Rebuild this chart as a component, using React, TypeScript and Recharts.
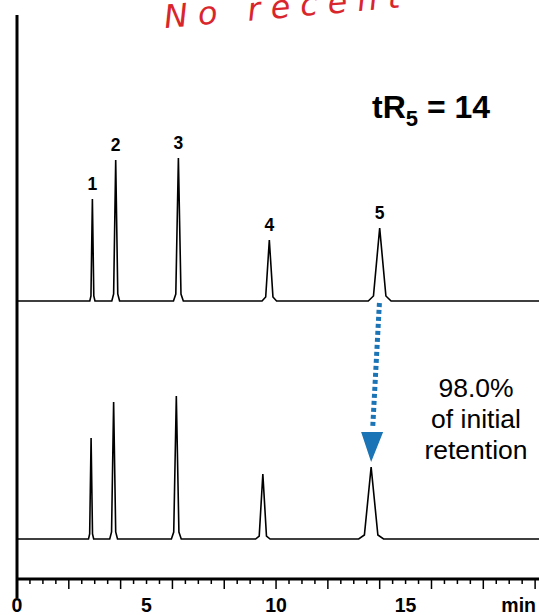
import { LineChart, Line, XAxis, YAxis, ReferenceLine, ReferenceDot } from 'recharts'

// Chromatogram before / after (time in min, detector signal in arbitrary units)
// Traces are stacked: the upper trace rides on an offset baseline.
const topTrace: [number, number][] = [
  [0, 278],
  [2.81, 278], [2.855, 283], [2.91, 380], [2.965, 283], [3.01, 278],
  [3.66, 278], [3.73, 285], [3.81, 419], [3.89, 285], [3.96, 278],
  [6.04, 278], [6.13, 285], [6.23, 421], [6.33, 285], [6.42, 278],
  [9.46, 278], [9.6, 282], [9.74, 339], [9.88, 282], [10.02, 278],
  [13.56, 278], [13.76, 283], [14.0, 351], [14.24, 283], [14.44, 278],
  [20.15, 278],
]

const bottomTrace: [number, number][] = [
  [0, 40],
  [2.76, 40], [2.805, 45], [2.86, 141], [2.915, 45], [2.96, 40],
  [3.58, 40], [3.65, 47], [3.73, 177], [3.81, 47], [3.88, 40],
  [5.96, 40], [6.05, 47], [6.15, 183], [6.25, 47], [6.34, 40],
  [9.21, 40], [9.35, 43], [9.49, 105], [9.63, 43], [9.77, 40],
  [13.19, 40], [13.41, 44], [13.67, 112], [13.93, 44], [14.15, 40],
  [20.15, 40],
]

// peak numbering on the upper trace
const peakNames = ['1', '2', '3', '4', '5']
const peakTimes = [2.91, 3.81, 6.23, 9.74, 14.0]
const peakApex = [380, 419, 421, 339, 351]

// shift of peak 5: initial -> after
const shiftFrom = { t: 13.99, v: 276 }
const shiftTo = { t: 13.67, v: 117 }

// x axis: small ticks every 0.5 min, long ones every 2 min, numbers every 5
const axisTicks = [
  0, 0.5, 1, 1.5, 2, 2.5, 3, 3.5, 4, 4.5, 5, 5.5, 6, 6.5, 7, 7.5, 8, 8.5, 9, 9.5,
  10, 10.5, 11, 11.5, 12, 12.5, 13, 13.5, 14, 14.5, 15, 15.5, 16, 16.5, 17, 17.5,
  18, 18.5, 19, 19.5, 20,
]
const majorTicks = [0, 2, 4, 6, 8, 10, 12, 14, 16, 18, 20]
const labelTicks = [0, 5, 10, 15]

const FONT = '"Liberation Sans", Arial, Helvetica, sans-serif'
const BLUE = '#1b74b5'

const toPoints = (pairs: [number, number][]) => pairs.map(([t, v]) => ({ t, v }))

const AxisTick = ({ x, y, payload }: any) => {
  const v = payload.value
  const len = majorTicks.includes(v) ? 10 : 5
  return (
    <g>
      <line x1={x} x2={x} y1={y} y2={y + len} stroke="#000" strokeWidth={1.5} />
      {labelTicks.includes(v) && (
        <text x={x} y={y + 33} textAnchor="middle" fontFamily={FONT} fontWeight="bold" fontSize={19.5} fill="#000">
          {v}
        </text>
      )}
    </g>
  )
}

const ArrowHead = ({ cx, cy }: any) => (
  <polygon points={`${cx},${cy} ${cx - 10},${cy - 30} ${cx + 12},${cy - 30}`} fill={BLUE} />
)

export default function App() {
  return (
    <div style={{ position: 'absolute', left: 0, top: 0, width: 539, height: 615, background: '#fff' }}>
      <LineChart width={539} height={615} margin={{ top: 15, right: 0, bottom: 0, left: 17 }}>
        <XAxis
          type="number"
          dataKey="t"
          domain={[0, 20.15]}
          ticks={axisTicks}
          interval={0}
          tickSize={0}
          tickMargin={0}
          tickLine={false}
          tick={<AxisTick />}
          height={36}
          axisLine={{ stroke: '#000', strokeWidth: 3 }}
          label={{
            value: 'min',
            position: 'insideBottomRight',
            offset: 3,
            style: { fontFamily: FONT, fontWeight: 'bold', fontSize: 19.5, fill: '#000' },
          }}
        />
        <YAxis type="number" domain={[0, 564]} hide />

        {/* y axis line, runs a bit below the time axis */}
        <ReferenceLine
          segment={[{ x: 0, y: 564 }, { x: 0, y: -19 }]}
          ifOverflow="visible"
          stroke="#000"
          strokeWidth={3}
        />

        <Line
          data={toPoints(topTrace)}
          dataKey="v"
          type="linear"
          stroke="#000"
          strokeWidth={1.6}
          dot={false}
          isAnimationActive={false}
        />
        <Line
          data={toPoints(bottomTrace)}
          dataKey="v"
          type="linear"
          stroke="#000"
          strokeWidth={1.6}
          dot={false}
          isAnimationActive={false}
        />

        {peakNames.map((name, i) => (
          <ReferenceDot
            key={name}
            x={peakTimes[i]}
            y={peakApex[i]}
            r={0}
            fill="none"
            stroke="none"
            label={{
              value: name,
              position: 'top',
              offset: 9,
              style: { fontFamily: FONT, fontWeight: 'bold', fontSize: 17.5, fill: '#000' },
            }}
          />
        ))}

        {/* dotted arrow: peak 5 moves */}
        <ReferenceLine
          segment={[{ x: shiftFrom.t, y: shiftFrom.v }, { x: 13.73, y: 151 }]}
          stroke={BLUE}
          strokeWidth={5}
          strokeDasharray="4 3"
        />
        <ReferenceDot x={shiftTo.t} y={shiftTo.v} r={1} shape={<ArrowHead />} />

        {/* annotations */}
        <text
          x={165}
          y={28}
          transform="rotate(-5 165 28)"
          fontFamily='"DejaVu Sans", sans-serif'
          fontStyle="italic"
          fontSize={32}
          letterSpacing={10}
          fill="#d9262c"
        >
          No recent
        </text>
        <text x={372} y={118} fontFamily={FONT} fontWeight="bold" fontSize={32} fill="#000" style={{ whiteSpace: 'pre' }}>
          tR
          <tspan fontSize={22} dy={8}>5</tspan>
          <tspan dy={-8}> = 14</tspan>
        </text>
        <text x={476} y={397} textAnchor="middle" fontFamily={FONT} fontSize={26.5} fill="#000">98.0%</text>
        <text x={476} y={428} textAnchor="middle" fontFamily={FONT} fontSize={26.5} fill="#000">of initial</text>
        <text x={476} y={459} textAnchor="middle" fontFamily={FONT} fontSize={26.5} fill="#000">retention</text>
      </LineChart>
    </div>
  )
}
